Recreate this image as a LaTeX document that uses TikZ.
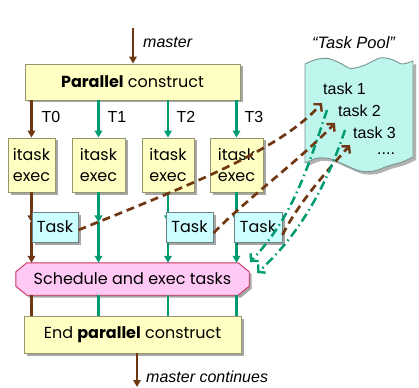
\documentclass[tikz,border=0pt]{standalone}
\usepackage{fontspec}
\setmainfont{Liberation Sans}
\newfontfamily\comic{Poppins}
\usetikzlibrary{arrows.meta,shadows}
\definecolor{brn}{RGB}{112,56,18}
\definecolor{grn}{RGB}{0,155,112}
\definecolor{ylw}{RGB}{255,255,196}
\definecolor{ylwd}{RGB}{150,150,110}
\definecolor{cyn}{RGB}{204,255,255}
\definecolor{cynd}{RGB}{110,130,130}
\definecolor{poolc}{RGB}{190,246,238}
\definecolor{poold}{RGB}{120,150,145}
\definecolor{pnk}{RGB}{255,200,245}
\definecolor{pnkd}{RGB}{205,50,95}
\begin{document}
\begin{tikzpicture}[x=1pt,y=-1pt,
  shad/.style={drop shadow={shadow xshift=2.5pt,shadow yshift=-2.5pt,opacity=0.35,fill=black}},
  cfont/.style={font=\comic\fontsize{16}{20.5}\selectfont},
  ybox/.style={draw=ylwd,fill=ylw,line width=0.9pt,shad,inner sep=0pt,align=center,cfont},
  tbox/.style={draw=cynd,fill=cyn,line width=0.9pt,shad,inner sep=0pt,cfont},
  lbl/.style={font=\fontsize{16}{18}\selectfont,inner sep=0pt},
  brarrow/.style={draw=brn,line width=2.4pt,-{Triangle[length=7pt,width=7.5pt]}},
  grarrow/.style={draw=grn,line width=2.4pt,-{Triangle[length=7pt,width=7.5pt]}},
  brline/.style={draw=brn,line width=2.4pt},
  grline/.style={draw=grn,line width=2.4pt},
  brdash/.style={draw=brn,line width=2.7pt,dash pattern=on 8pt off 5pt,-{Straight Barb[length=5pt,width=11pt,line width=2.4pt]}},
  grdash/.style={draw=grn,line width=2.5pt,dash pattern=on 9pt off 4pt on 1.5pt off 4pt,-{Straight Barb[length=5pt,width=11pt,line width=2.4pt]}}
]
\useasboundingbox[fill=white] (0,0) rectangle (419,387);

% task pool
\draw[poold,fill=poolc,line width=0.9pt,drop shadow={shadow xshift=3pt,shadow yshift=-3pt,opacity=0.3,fill=black}]
  plot[smooth] coordinates {(305,64) (316,59.5) (328,58.5) (340,63) (351,68.5) (365,65) (380,58) (392,59.5) (402,64) (413,61)}
  -- plot[smooth] coordinates {(413,157) (402,162) (388,166) (374,171) (360,171) (345,165) (331,159) (318,158) (305,163)} -- cycle;
\node[lbl,font=\itshape\fontsize{16.5}{18}\selectfont] (poolname) at (353.5,43) {“Task Pool”};
\node[lbl,anchor=west] (p1) at (323,89) {task 1};
\node[lbl,anchor=west] (p2) at (338,111) {task 2};
\node[lbl,anchor=west] (p3) at (353,133) {task 3};
\node[lbl,anchor=base west] (p4) at (377,155) {....};

% main boxes
\node[ybox,minimum width=215pt,minimum height=36pt] (par) at (132.5,82) {\textbf{Parallel} construct};
\node[ybox,minimum width=47pt,minimum height=54pt] (it0) at (31.5,165) {itask\\exec};
\node[ybox,minimum width=53pt,minimum height=54pt] (it1) at (98.5,165) {itask\\exec};
\node[ybox,minimum width=52pt,minimum height=54pt] (it2) at (168,165) {itask\\exec};
\node[ybox,minimum width=53pt,minimum height=54pt] (it3) at (236.5,165) {itask\\exec};

\coordinate (mstart) at (133,28);
\coordinate (mend) at (137,387);
\draw[brarrow] (mstart) -- (mstart |- par.north);
\node[lbl,anchor=west,font=\itshape\fontsize{16}{18}\selectfont] (mlabel) at (143,42) {master};

\draw[brarrow] (par.south -| it0) -- (it0.north);
\draw[grarrow] (par.south -| it1) -- (it1.north);
\draw[grarrow] (par.south -| it2) -- (it2.north);
\draw[grarrow] (par.south -| it3) -- (it3.north);
\node[lbl] (l0) at (51,117) {T0};
\node[lbl] (l1) at (117,117) {T1};
\node[lbl] (l2) at (186,117) {T2};
\node[lbl] (l3) at (254,117) {T3};

% schedule node (shape drawn manually)
\node[minimum width=233pt,minimum height=32pt,inner sep=0pt] (sched) at (132.5,279) {};
\draw[pnkd,fill=pnk,line width=0.9pt,shad]
  ([xshift=11pt]sched.north west) -- ([xshift=-11pt]sched.north east) -- ([yshift=-9pt]sched.north east)
  -- ([yshift=9pt]sched.south east) -- ([xshift=-11pt]sched.south east) -- ([xshift=11pt]sched.south west)
  -- ([yshift=9pt]sched.south west) -- ([yshift=-9pt]sched.north west) -- cycle;
\node[cfont,inner sep=0pt] (schedtxt) at (sched.center) {Schedule and exec tasks};

% vertical lines itask -> schedule
\draw[brarrow] (it0.south) -- ++(0,30) coordinate (m0);
\draw[brarrow] (m0) -- (m0 |- sched.north);
\draw[grarrow] (it1.south) -- ++(0,30) coordinate (m1);
\draw[grarrow] (m1) -- (m1 |- sched.north);
\draw[grarrow] (it2.south) -- ++(0,30) coordinate (m2);
\draw[grarrow] (m2) -- (m2 |- sched.north);
\draw[grarrow] (it3.south) -- ++(0,30) coordinate (m3);
\draw[grarrow] (m3) -- (m3 |- sched.north);

\node[tbox,minimum width=46pt,minimum height=30pt] (t0) at (55,227) {Task};
\node[tbox,minimum width=47pt,minimum height=30pt] (t2) at (189.5,227) {Task};
\node[tbox,minimum width=48pt,minimum height=30pt] (t3) at (258,227) {Task};

% end box
\node[ybox,minimum width=217pt,minimum height=37pt] (endp) at (132.5,334.5) {End \textbf{parallel} construct};
\draw[brline] (sched.south -| it0) -- (endp.north -| it0);
\draw[grline] (sched.south -| it1) -- (endp.north -| it1);
\draw[grline] (sched.south -| it2) -- (endp.north -| it2);
\draw[grline] (sched.south -| it3) -- (endp.north -| it3);
\draw[brarrow] (endp.south -| mend) -- (mend);
\node[lbl,anchor=west,font=\itshape\fontsize{16}{18}\selectfont] (mclabel) at (146,377) {master continues};

% dashed connectors to pool
\coordinate (a1) at (322,103);
\coordinate (a2) at (335,123);
\coordinate (a3) at (350,145);
\draw[brdash] ([yshift=-3pt]t0.east) .. controls (190,185) and (280,150) .. (a1);
\draw[brdash] ([yshift=-6pt]t2.east) .. controls (250,196) and (300,160) .. (a2);
\draw[brdash] ([yshift=-8pt]t3.east) .. controls (300,200) and (330,168) .. (a3);

\coordinate (g1s) at (327,110);
\coordinate (g2s) at (345,130);
\coordinate (g1e) at (250,262);
\coordinate (g2e) at (257,273);
\draw[grdash] (g1s) .. controls (310,160) and (295,215) .. (g1e);
\draw[grdash] (g2s) .. controls (330,175) and (305,230) .. (g2e);
\end{tikzpicture}
\end{document}
